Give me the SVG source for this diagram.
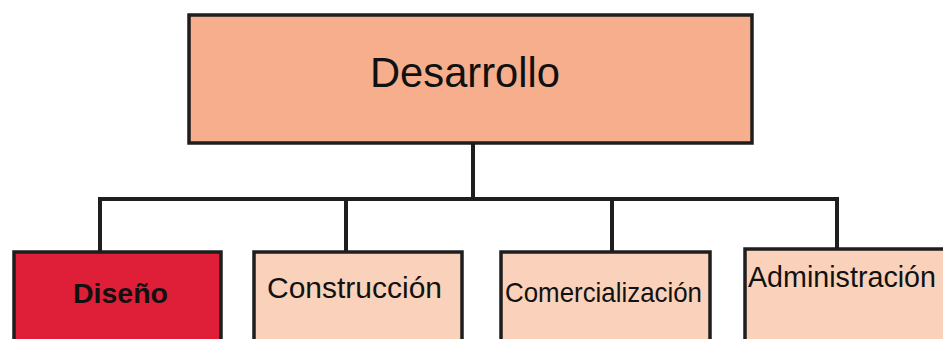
<svg xmlns="http://www.w3.org/2000/svg" width="943" height="339" viewBox="0 0 943 339">
<style>
.box{stroke:#1e1e1e;stroke-width:3.5}
.top{fill:#f6ae8c}
.sub{fill:#fad1ba}
.red{fill:#df1f37}
.lbl{font-family:"Liberation Sans",Arial,sans-serif;fill:#111}
.conn{fill:none;stroke:#1e1e1e;stroke-width:4;stroke-linejoin:miter}
</style>
<rect width="943" height="339" fill="#ffffff"/>
<g id="connectors">
<path class="conn" d="M473 143 V199"/>
<path class="conn" d="M100 252 V199 H837 V250"/>
<path class="conn" d="M346 199 V252"/>
<path class="conn" d="M612 199 V252"/>
</g>
<g id="desarrollo">
<rect class="box top" x="189" y="15" width="563" height="128"/>
<text class="lbl" x="370" y="87" font-size="43" textLength="190" lengthAdjust="spacingAndGlyphs">Desarrollo</text>
</g>
<g id="diseno">
<rect class="box red" x="14" y="252" width="207" height="100"/>
<text class="lbl" x="73" y="303" font-size="28" font-weight="bold" textLength="95" lengthAdjust="spacingAndGlyphs">Diseño</text>
</g>
<g id="construccion">
<rect class="box sub" x="254" y="252" width="208" height="100"/>
<text class="lbl" x="267" y="298" font-size="30" textLength="175" lengthAdjust="spacingAndGlyphs">Construcción</text>
</g>
<g id="comercializacion">
<rect class="box sub" x="501" y="252" width="209" height="100"/>
<text class="lbl" x="505" y="302" font-size="28" textLength="197" lengthAdjust="spacingAndGlyphs">Comercialización</text>
</g>
<g id="administracion">
<rect class="box sub" x="745" y="249" width="210" height="100"/>
<text class="lbl" x="748" y="287" font-size="30" textLength="188" lengthAdjust="spacingAndGlyphs">Administración</text>
</g>
</svg>
